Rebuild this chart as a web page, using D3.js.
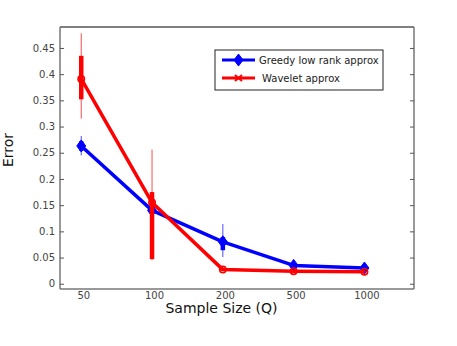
<!DOCTYPE html>
<html lang="en">
<head>
<meta charset="UTF-8">
<title>Error vs sample size</title>
<script src="https://cdn.jsdelivr.net/npm/d3@7"></script>
<style>
  body { margin: 0; background: #fff; }
  text { font-family: "DejaVu Sans", sans-serif; }
</style>
</head>
<body>
<svg id="chart" width="457" height="346"></svg>
<script>
// data
const sampleSizes = ["50", "100", "200", "500", "1000"];
const yTicks = [0, 0.05, 0.1, 0.15, 0.2, 0.25, 0.3, 0.35, 0.4, 0.45];

const greedyMean = [0.263, 0.140, 0.080, 0.035, 0.030];
const greedyThinLo = [0.245, 0.132, 0.051, 0.030, 0.026];
const greedyThinHi = [0.282, 0.148, 0.114, 0.042, 0.036];
const greedyThickLo = [0.254, 0.136, 0.064, 0.032, 0.028];
const greedyThickHi = [0.272, 0.144, 0.089, 0.039, 0.033];

const waveletMean = [0.391, 0.155, 0.027, 0.024, 0.023];
const waveletThinLo = [0.315, 0.045, 0.024, 0.021, 0.021];
const waveletThinHi = [0.478, 0.256, 0.030, 0.027, 0.025];
const waveletThickLo = [0.352, 0.047, 0.025, 0.022, 0.022];
const waveletThickHi = [0.435, 0.175, 0.029, 0.026, 0.024];

const seriesNames = ["Greedy low rank approx", "Wavelet approx"];

const svg = d3.select('#chart');
const pLeft = 60, pRight = 414, pTop = 27, pBottom = 289;

const x = d3.scaleLinear().domain([0.7, 5.7]).range([pLeft, pRight]);
const y = d3.scaleLinear().domain([-0.01, 0.49]).range([pBottom, pTop]);

// frame
svg.append('line').attr('x1', pLeft).attr('x2', pRight).attr('y1', pTop).attr('y2', pTop)
    .attr('stroke', '#000').attr('stroke-width', 1.2);
svg.append('line').attr('x1', pLeft).attr('x2', pLeft).attr('y1', pTop).attr('y2', pBottom)
    .attr('stroke', '#777').attr('stroke-width', 1.5);
svg.append('line').attr('x1', pRight).attr('x2', pRight).attr('y1', pTop).attr('y2', pBottom)
    .attr('stroke', '#777').attr('stroke-width', 1.5);
svg.append('line').attr('x1', pLeft).attr('x2', pRight).attr('y1', pBottom).attr('y2', pBottom)
    .attr('stroke', '#777').attr('stroke-width', 1.5);

// y axis: ticks inside, labels outside
const yAxis = d3.axisLeft(y).tickValues(yTicks).tickSize(-4).tickPadding(5)
    .tickFormat(d => String(+d.toFixed(2)));
const gy = svg.append('g').attr('transform', `translate(${pLeft},0)`).call(yAxis);
gy.select('.domain').remove();
gy.selectAll('line').attr('stroke', '#555');
gy.selectAll('text').attr('font-size', 10).attr('fill', '#444')
    .attr('font-family', '"DejaVu Sans", sans-serif');

const yAxisR = d3.axisRight(y).tickValues(yTicks).tickSize(-4).tickFormat('');
const gyr = svg.append('g').attr('transform', `translate(${pRight},0)`).call(yAxisR);
gyr.select('.domain').remove();
gyr.selectAll('line').attr('stroke', '#555');

// x axis labels
const xAxis = d3.axisBottom(x).tickValues(d3.range(1, sampleSizes.length + 1))
    .tickSize(0).tickPadding(3).tickFormat(d => sampleSizes[d - 1]);
const gx = svg.append('g').attr('transform', `translate(2,${pBottom})`).call(xAxis);
gx.select('.domain').remove();
gx.selectAll('text').attr('font-size', 10).attr('fill', '#444')
    .attr('font-family', '"DejaVu Sans", sans-serif');

// axis titles
svg.append('text').attr('x', 221.5).attr('y', 313).attr('text-anchor', 'middle')
    .attr('font-size', 14).attr('fill', '#111').text('Sample Size (Q)');
svg.append('text').attr('transform', 'translate(13,150) rotate(-90)')
    .attr('text-anchor', 'middle').attr('font-size', 14).attr('fill', '#111').text('Error');

const series = [
  {name: seriesNames[0], color: '#0000ff', mean: greedyMean, thinLo: greedyThinLo, thinHi: greedyThinHi,
   thickLo: greedyThickLo, thickHi: greedyThickHi, marker: 'diamond'},
  {name: seriesNames[1], color: '#ff0000', mean: waveletMean, thinLo: waveletThinLo, thinHi: waveletThinHi,
   thickLo: waveletThickLo, thickHi: waveletThickHi, marker: 'circle'}
];

const line = d3.line().x((d, i) => x(i + 1)).y(d => y(d));

function drawMarker(g, type, cx, cy, color) {
  if (type === 'diamond') {
    g.append('path').attr('d', `M${cx},${cy - 6}L${cx + 4.5},${cy}L${cx},${cy + 6}L${cx - 4.5},${cy}Z`)
        .attr('fill', color).attr('stroke', color).attr('stroke-width', 1);
  } else {
    g.append('circle').attr('cx', cx).attr('cy', cy).attr('r', 3.2)
        .attr('fill', 'none').attr('stroke', color).attr('stroke-width', 1.6);
  }
}

series.forEach(s => {
  const g = svg.append('g');
  g.append('path').datum(s.mean).attr('d', line).attr('fill', 'none')
      .attr('stroke', s.color).attr('stroke-width', 3.5).attr('stroke-linejoin', 'round');
  s.mean.forEach((v, i) => {
    const cx = x(i + 1);
    g.append('line').attr('x1', cx).attr('x2', cx).attr('y1', y(s.thinLo[i])).attr('y2', y(s.thinHi[i]))
        .attr('stroke', s.color).attr('stroke-width', 1).attr('stroke-opacity', 0.7);
    g.append('line').attr('x1', cx).attr('x2', cx).attr('y1', y(s.thickLo[i])).attr('y2', y(s.thickHi[i]))
        .attr('stroke', s.color).attr('stroke-width', 4.5);
    drawMarker(g, s.marker, cx, y(v), s.color);
  });
});

// legend
const lg = svg.append('g').attr('transform', 'translate(215,50)');
lg.append('rect').attr('width', 168).attr('height', 40).attr('fill', '#fff')
    .attr('stroke', '#222').attr('stroke-width', 1);
series.forEach((s, i) => {
  const ly = 10 + i * 18;
  lg.append('line').attr('x1', 7).attr('x2', 40).attr('y1', ly).attr('y2', ly)
      .attr('stroke', s.color).attr('stroke-width', 3);
  if (s.marker === 'diamond') {
    drawMarker(lg, 'diamond', 23.5, ly, s.color);
  } else {
    lg.append('path').attr('d', `M20,${ly - 3}L27,${ly + 3}M20,${ly + 3}L27,${ly - 3}`)
        .attr('stroke', s.color).attr('stroke-width', 2);
  }
  lg.append('text').attr('x', i === 0 ? 44 : 47).attr('y', ly + 4).attr('font-size', 10)
      .attr('fill', '#222').text(s.name);
});
</script>
</body>
</html>
